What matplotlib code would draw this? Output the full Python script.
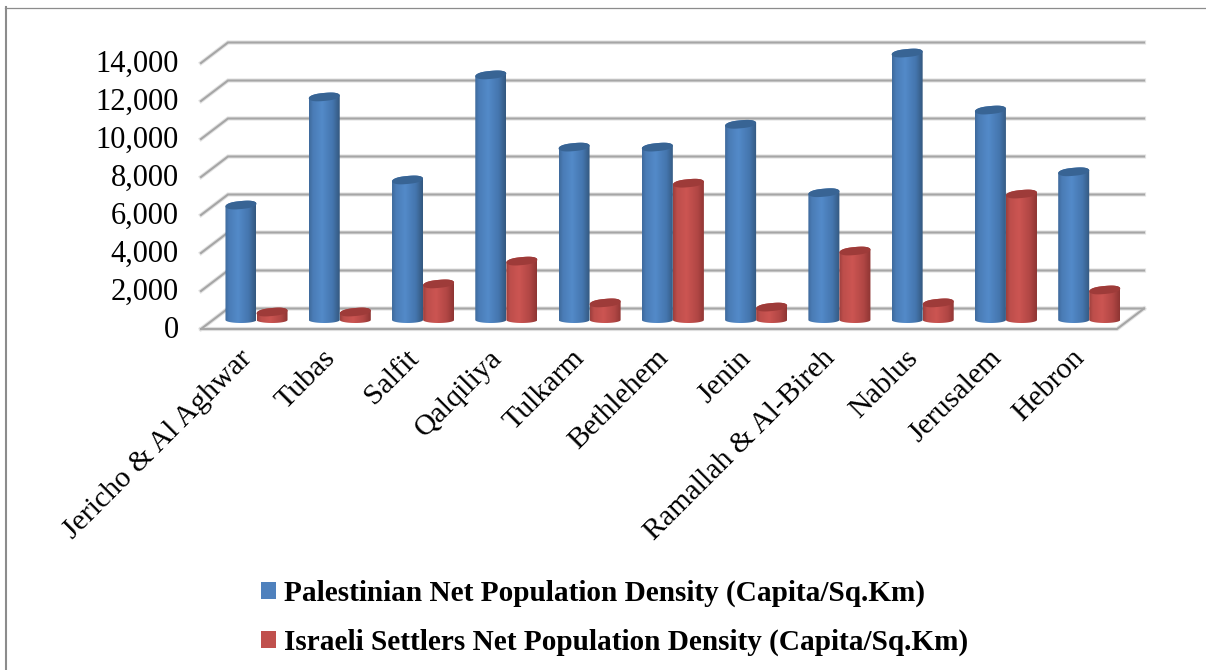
import numpy as np
import matplotlib
matplotlib.use("Agg")
import matplotlib.pyplot as plt
from matplotlib.patches import Patch, PathPatch
from matplotlib.path import Path
from matplotlib.colors import LinearSegmentedColormap
from matplotlib.transforms import ScaledTranslation

districts = ["Jericho & Al Aghwar", "Tubas", "Salfit", "Qalqiliya", "Tulkarm", "Bethlehem",
             "Jenin", "Ramallah & Al-Bireh", "Nablus", "Jerusalem", "Hebron"]
palestinian = [6050, 11740, 7370, 12900, 9100, 9100, 10300, 6700, 14050, 11050, 7800]
settlers = [420, 420, 1900, 3100, 900, 7200, 680, 3630, 900, 6630, 1580]
y_ticks = [0, 2000, 4000, 6000, 8000, 10000, 12000, 14000]
series_names = ["Palestinian Net Population Density (Capita/Sq.Km)",
                "Israeli Settlers Net Population Density (Capita/Sq.Km)"]

W, H = 1206, 670
plt.rcParams["font.family"] = ["Liberation Serif", "DejaVu Serif"]

fig = plt.figure(figsize=(W / 100, H / 100), dpi=100, facecolor="white")
left, right, bottom_px, top_px = 201, 1117, 329, 63
ax = fig.add_axes([left / W, 1 - bottom_px / H, (right - left) / W, (bottom_px - top_px) / H])
ax.set_facecolor("none")
for s in ax.spines.values():
    s.set_visible(False)

XMIN, XMAX, YMAX = -0.5, 10.5, 14000
px_x = (XMAX - XMIN) / (right - left)
px_y = YMAX / (bottom_px - top_px)

# depth of the floor: front edge to back wall
DX, DY = 27 * px_x, 20.5 * px_y
# bars stand part way back on the floor
BAR_LIFT = 9 * px_y
BAR_W = 31 * px_x

GRID = "#a6a6a6"
SOFT = "#e2e2e2"
for v in y_ticks:
    xs = [XMIN, XMIN + DX, XMAX + DX]
    ys = [v, v + DY, v + DY]
    ax.plot(xs, ys, color=SOFT, lw=3.0, clip_on=False, zorder=1, solid_joinstyle="miter")
    ax.plot(xs, ys, color=GRID, lw=1.5, clip_on=False, zorder=1.1, solid_joinstyle="miter")
# front and right edges of the floor
for col, lw, z in ((SOFT, 3.0, 1), (GRID, 1.5, 1.1)):
    ax.plot([XMIN, XMAX, XMAX + DX], [0, 0, DY], color=col, lw=lw, clip_on=False, zorder=z)

blue_map = LinearSegmentedColormap.from_list(
    "cyl_blue", [(0, "#3f6a9c"), (0.12, "#4a7cb6"), (0.42, "#538ac9"), (0.78, "#4475ad"), (1, "#34587f")])
red_map = LinearSegmentedColormap.from_list(
    "cyl_red", [(0, "#9d3f3d"), (0.12, "#bd4e4b"), (0.42, "#cc5552"), (0.78, "#b04644"), (1, "#8e3533")])
shade = np.linspace(0, 1, 64).reshape(1, -1)


def rounded(a):
    """Squared-off cosine, so the cylinder shoulders stay round instead of pointed."""
    return np.sign(np.cos(a)) * np.abs(np.cos(a)) ** 0.75


def cylinder(x, value, cmap, top_colour, z):
    """Shade one cylinder: gradient body clipped to its outline, plus a tilted cap."""
    half = BAR_W / 2
    cap = 4.0 * px_y
    foot = 3.0 * px_y
    tilt = 0.09 * (px_y / px_x)
    t = np.linspace(0, 2 * np.pi, 80)
    top_y = value + BAR_LIFT
    cap_x = x + half * rounded(t)
    cap_y = top_y + cap * np.sin(t) + tilt * half * rounded(t)
    low = np.linspace(np.pi, 2 * np.pi, 30)
    high = np.linspace(0, np.pi, 30)
    out_x = np.r_[x + half * np.cos(low), x + half * rounded(high)]
    out_y = np.r_[BAR_LIFT + foot * np.sin(low),
                  top_y + tilt * half * rounded(high) + cap * np.sin(high)]
    body = Path(np.c_[out_x, out_y])
    im = ax.imshow(shade, cmap=cmap, aspect="auto", interpolation="bilinear",
                   extent=[x - half, x + half, BAR_LIFT - foot, top_y + 2 * cap], zorder=z)
    im.set_clip_box(fig.bbox)
    im.set_clip_path(PathPatch(body, transform=ax.transData))
    ax.add_patch(PathPatch(Path(np.c_[cap_x, cap_y]), facecolor=top_colour,
                           edgecolor="none", zorder=z + 0.1, clip_on=False))


xpos = np.arange(len(districts))
blue_x = xpos - 0.02
red_x = xpos + 0.353
ax.bar(blue_x, palestinian, width=BAR_W * 0.96, bottom=BAR_LIFT, color="#4f81bd", zorder=2, clip_on=False)
ax.bar(red_x, settlers, width=BAR_W * 0.96, bottom=BAR_LIFT, color="#c0504d", zorder=2, clip_on=False)
for i in xpos:
    cylinder(blue_x[i], palestinian[i], blue_map, "#386494", 3)
    cylinder(red_x[i], settlers[i], red_map, "#9e3b39", 3.2)

ax.set_xlim(XMIN, XMAX)
ax.set_ylim(0, YMAX)
ax.set_yticks(y_ticks)
ax.set_yticklabels([f"{v:,}" for v in y_ticks], fontsize=22, color="black")
ax.set_xticks(xpos)
ax.set_xticklabels(districts, rotation=45, ha="right", va="top", rotation_mode="anchor",
                   fontsize=21.5, color="black")
ax.tick_params(axis="both", length=0, pad=0)
ax.tick_params(axis="y", pad=16)
nudge = ScaledTranslation(-4 / 100, -16 / 100, fig.dpi_scale_trans)
for lab in ax.get_xticklabels():
    lab.set_transform(lab.get_transform() + nudge)
lift = ScaledTranslation(0, 2 / 100, fig.dpi_scale_trans)
for lab in ax.get_yticklabels():
    lab.set_transform(lab.get_transform() + lift)

# chart-area border: top and left edges only
fig.add_artist(plt.Line2D([6 / W, 6 / W], [0, 1 - 7 / H], color="#8c8c8c", lw=1.5,
                          transform=fig.transFigure))
fig.add_artist(plt.Line2D([5 / W, 1], [1 - 7.5 / H, 1 - 7.5 / H], color="#8c8c8c", lw=0.9,
                          transform=fig.transFigure))

# legend, one series per row
handles = [Patch(facecolor="#4f81bd", edgecolor="none"), Patch(facecolor="#c0504d", edgecolor="none")]
fig.legend(handles, series_names, loc="center left", bbox_to_anchor=(261 / W, 1 - 618 / H),
           frameon=False, prop={"weight": "bold", "size": 21.1}, labelspacing=0.72,
           handlelength=0.51, handleheight=0.51, handletextpad=0.27, borderpad=0, borderaxespad=0)

fig.savefig("out.png", dpi=100)
